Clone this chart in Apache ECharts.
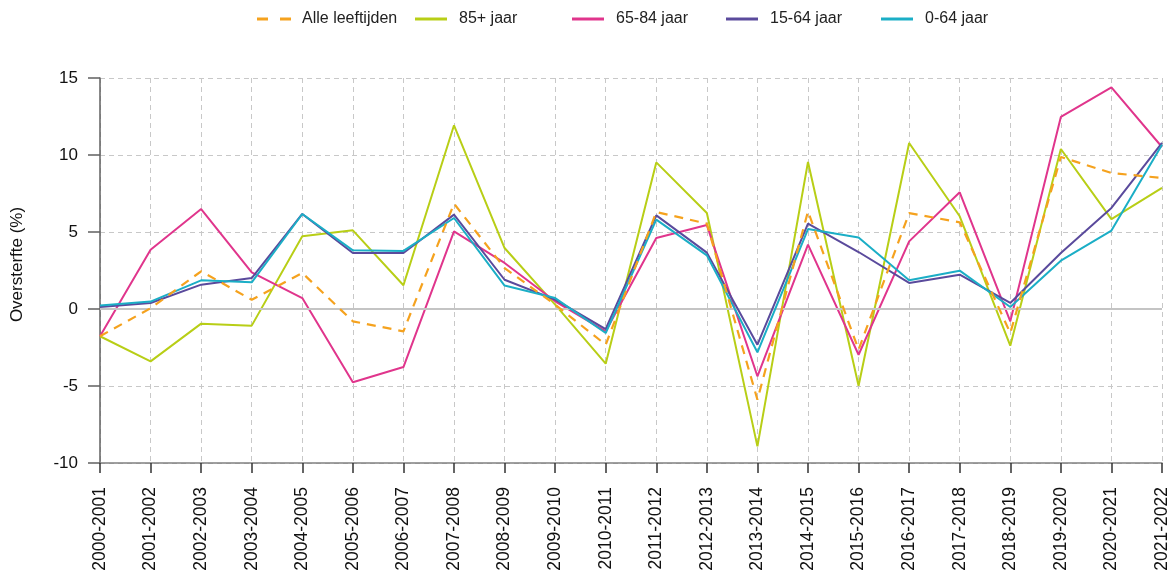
<!DOCTYPE html>
<html><head><meta charset="utf-8">
<script src="https://cdn.jsdelivr.net/npm/echarts@6/dist/echarts.min.js"></script>
<style>html,body{margin:0;padding:0;background:#fff}#c{width:1174px;height:578px}</style>
</head><body><div id="c"></div>
<script>
const categories = ["2000-2001","2001-2002","2002-2003","2003-2004","2004-2005","2005-2006","2006-2007","2007-2008","2008-2009","2009-2010","2010-2011","2011-2012","2012-2013","2013-2014","2014-2015","2015-2016","2016-2017","2017-2018","2018-2019","2019-2020","2020-2021","2021-2022"];
const alleLeeftijden = [-1.77,0.05,2.45,0.6,2.34,-0.8,-1.45,6.84,2.66,0.28,-2.32,6.30,5.54,-5.89,6.34,-2.64,6.23,5.63,-1.56,9.87,8.83,8.51];
const jaar85plus = [-1.77,-3.40,-0.95,-1.08,4.72,5.11,1.54,11.93,3.96,0.28,-3.55,9.52,6.23,-8.92,9.55,-4.98,10.78,6.02,-2.38,10.39,5.84,7.86];
const jaar65_84 = [-1.77,3.85,6.49,2.38,0.71,-4.76,-3.77,5.04,2.99,0.5,-1.45,4.61,5.45,-4.37,4.18,-2.97,4.39,7.58,-0.80,12.47,14.39,10.52];
const jaar15_64 = [0.13,0.39,1.58,2.01,6.17,3.64,3.64,6.13,1.90,0.61,-1.30,6.08,3.66,-2.32,5.54,3.70,1.69,2.23,0.39,3.64,6.56,10.78];
const jaar0_64 = [0.22,0.48,1.86,1.73,6.17,3.81,3.77,5.91,1.52,0.71,-1.56,5.80,3.48,-2.81,5.19,4.65,1.86,2.49,0.13,3.14,5.09,10.67];
const yTicks = [-10,-5,0,5,10,15];

const names = ["Alle leeftijden","85+ jaar","65-84 jaar","15-64 jaar","0-64 jaar"];
const colors = ["#F5A21E","#B8CE16","#E0358C","#5A4A9C","#1BAEC6"];
const datasets = [alleLeeftijden, jaar85plus, jaar65_84, jaar15_64, jaar0_64];
const legendLeft = [257, 415, 572, 726, 881];

const chart = echarts.init(document.getElementById('c'), null, {renderer:'canvas'});
const series = datasets.map((d,i)=>({
  name: names[i], type:'line', data:d, symbol:'none', smooth:false,
  lineStyle:{color:colors[i], width: i===0?2.2:2, type: i===0?[9,7]:'solid'},
  itemStyle:{color:colors[i]},
  z: i===0?10:(i+2),
  animation:false
}));
series.push({
  name:'zero', type:'line', data:[], silent:true,
  markLine:{silent:true, symbol:'none', label:{show:false},
    lineStyle:{color:'#c4c4c4', width:2, type:'solid'},
    data:[{yAxis:0}]},
  z:1
});
const dashIcon = 'path://M0,0H11V3H0Z M23,0H34V3H23Z';
const solidIcon = 'path://M0,0H32V3H0Z';
const legends = names.map((n,i)=>({
  data:[{name:n, icon: i===0?dashIcon:solidIcon}], left:legendLeft[i], top:11, padding:0,
  itemWidth: i===0?34:32, itemHeight:3, itemGap:0,
  textStyle:{fontFamily:'Liberation Sans, Arial', fontSize:16, color:'#222', padding:[0,0,0, i===0?6:7]}
}));
chart.setOption({
  animation:false,
  legend: legends,
  grid:{left:100, right:12, top:78, bottom:115, containLabel:false, outerBoundsMode:'none'},
  xAxis:{type:'category', data:categories, boundaryGap:false,
    axisLine:{show:true, onZero:false, lineStyle:{color:'#808080', width:1.5}},
    axisTick:{show:true, alignWithLabel:true, length:10, lineStyle:{color:'#333', width:1.5}},
    axisLabel:{rotate:90, fontFamily:'Liberation Sans, Arial', fontSize:17.5, color:'#111', margin:24, interval:0},
    splitLine:{show:true, lineStyle:{color:'#c8c8c8', type:[5,4], width:1}}
  },
  yAxis:{type:'value', min:yTicks[0], max:yTicks[yTicks.length-1], interval:5,
    name:'Oversterfte (%)', nameLocation:'middle', nameGap:74, nameRotate:90,
    nameTextStyle:{fontFamily:'Liberation Sans, Arial', fontSize:17, color:'#111', padding:[0,0,0,12]},
    axisLine:{show:true, lineStyle:{color:'#606060', width:1.5}},
    axisTick:{show:true, length:12, lineStyle:{color:'#606060', width:1.5}},
    axisLabel:{fontFamily:'Liberation Sans, Arial', fontSize:17, color:'#111', margin:22},
    splitLine:{show:true, lineStyle:{color:'#c8c8c8', type:[5,4], width:1}}
  },
  series: series
});
</script></body></html>
